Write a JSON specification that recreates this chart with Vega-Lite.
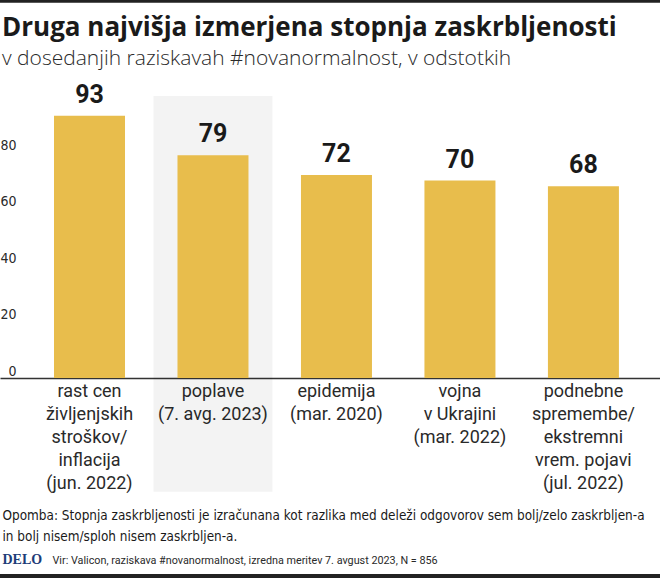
{
  "$schema": "https://vega.github.io/schema/vega-lite/v6.json",
  "width": 660,
  "height": 282,
  "autosize": "none",
  "padding": {"top": 96, "left": 0, "right": 0, "bottom": 200},
  "background": "white",
  "config": {"view": {"stroke": null}, "font": "Roboto"},
  "title": {
    "text": "Druga najvišja izmerjena stopnja zaskrbljenosti",
    "subtitle": "v dosedanjih raziskavah #novanormalnost, v odstotkih",
    "anchor": "start",
    "frame": "group",
    "dx": 2,
    "font": "Open Sans",
    "fontSize": 26,
    "fontWeight": "bold",
    "color": "#1a1a1a",
    "subtitleFont": "Open Sans",
    "subtitleFontSize": 21,
    "subtitleFontWeight": 300,
    "subtitleColor": "#2a2a2a",
    "subtitlePadding": 6.9,
    "offset": -69.4
  },
  "data": {
    "values": [
      {"tema": "rast cen|življenjskih|stroškov/|inflacija|(jun. 2022)", "vrednost": 93},
      {"tema": "poplave|(7. avg. 2023)", "vrednost": 79},
      {"tema": "epidemija|(mar. 2020)", "vrednost": 72},
      {"tema": "vojna|v Ukrajini|(mar. 2022)", "vrednost": 70},
      {"tema": "podnebne|spremembe/|ekstremni|vrem. pojavi|(jul. 2022)", "vrednost": 68}
    ]
  },
  "resolve": {"scale": {"y": "independent"}, "axis": {"y": "independent"}},
  "layer": [
    {
      "layer": [
        {
          "mark": {"type": "bar", "color": "#000000", "width": {"band": 1.676}},
          "encoding": {
            "x": {"field": "tema", "type": "nominal", "sort": null},
            "y": {"datum": 100, "type": "quantitative"},
            "y2": {"datum": -40.3},
            "opacity": {"condition": {"test": "datum.vrednost == 79", "value": 0.048}, "value": 0}
          }
        },
        {
          "mark": {"type": "bar", "color": "#E8BD4C"},
          "encoding": {
            "x": {
              "field": "tema",
              "type": "nominal",
              "sort": null,
              "scale": {"paddingInner": 0.425, "paddingOuter": 0.385, "align": 0.568},
              "axis": {
                "labelExpr": "split(datum.value, '|')",
                "labelAngle": 0,
                "labelAlign": "center",
                "labelFont": "Roboto",
                "labelFontSize": 18,
                "labelLineHeight": 23,
                "labelColor": "#2a2a2a",
                "labelPadding": 4,
                "labelBaseline": "top",
                "ticks": false,
                "domainColor": "#333333",
                "domainWidth": 1.5,
                "title": [
                  "Opomba: Stopnja zaskrbljenosti je izračunana kot razlika med deleži odgovorov sem bolj/zelo zaskrbljen-a",
                  "in bolj nisem/sploh nisem zaskrbljen-a."
                ],
                "titleFont": "DejaVu Sans Condensed",
                "titleFontSize": 13.45,
                "titleFontWeight": "normal",
                "titleColor": "#1a1a1a",
                "titleAnchor": "start",
                "titleAlign": "left",
                "titleBaseline": "alphabetic",
                "titleLineHeight": 21,
                "titleX": 2,
                "titleY": 141
              }
            },
            "y": {
              "field": "vrednost",
              "type": "quantitative",
              "scale": {"domain": [0, 100]},
              "axis": {
                "values": [0, 20, 40, 60, 80, 100],
                "labelExpr": "datum.value == 100 ? '' : datum.label",
                "ticks": false,
                "domain": false,
                "labelAlign": "right",
                "labelPadding": -16,
                "labelBaseline": "alphabetic",
                "labelOffset": -3,
                "labelFont": "DejaVu Sans Condensed",
                "labelFontSize": 14,
                "labelColor": "#2a2a2a",
                "gridColor": "#888888",
                "gridDash": [1, 2],
                "gridWidth": 1,
                "title": "DELO",
                "titleAngle": 0,
                "titleX": 2,
                "titleY": 467,
                "titleAlign": "left",
                "titleBaseline": "alphabetic",
                "titleFont": "Liberation Serif",
                "titleFontSize": 14,
                "titleFontWeight": "bold",
                "titleColor": "#1d3c78"
              }
            }
          }
        },
        {
          "mark": {"type": "text", "baseline": "bottom", "dy": -8, "font": "Roboto", "fontSize": 25, "fontWeight": "bold", "color": "#1a1a1a"},
          "encoding": {
            "x": {"field": "tema", "type": "nominal", "sort": null},
            "y": {"field": "vrednost", "type": "quantitative"},
            "text": {"field": "vrednost", "type": "quantitative"}
          }
        }
      ]
    },
    {
      "data": {"values": [{"crta": "zgoraj"}]},
      "mark": {"type": "rule", "color": "#222222", "strokeWidth": 3},
      "encoding": {
        "y": {
          "datum": 133.6,
          "type": "quantitative",
          "scale": {"domain": [0, 100]},
          "axis": {
            "orient": "right",
            "labels": false,
            "ticks": false,
            "domain": false,
            "grid": false,
            "title": "Vir: Valicon, raziskava #novanormalnost, izredna meritev 7. avgust 2023, N = 856",
            "titleAngle": 0,
            "titleX": -608,
            "titleY": 467,
            "titleAlign": "left",
            "titleBaseline": "alphabetic",
            "titleFont": "Roboto",
            "titleFontSize": 10.8,
            "titleFontWeight": "normal",
            "titleColor": "#2a2a2a"
          }
        }
      }
    },
    {
      "data": {"values": [{"crta": "spodaj"}]},
      "mark": {"type": "rule", "color": "#222222", "strokeWidth": 4},
      "encoding": {
        "y": {"datum": -70.2, "type": "quantitative", "scale": {"domain": [0, 100]}, "axis": null}
      }
    }
  ]
}
